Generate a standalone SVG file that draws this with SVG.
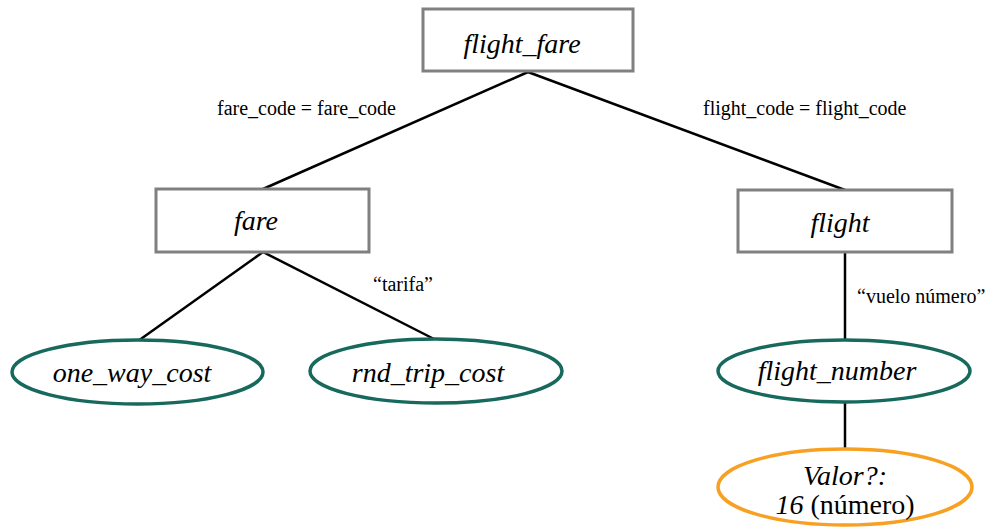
<svg xmlns="http://www.w3.org/2000/svg" width="987" height="527" viewBox="0 0 987 527">
  <style>
    .entity { fill: #ffffff; stroke: #808080; stroke-width: 3; }
    .attr { fill: #ffffff; stroke: #17695d; stroke-width: 3.5; }
    .value { fill: #ffffff; stroke: #f7a021; stroke-width: 3.5; }
    .edge { stroke: #000000; stroke-width: 2.5; fill: none; }
    .name { font-family: "Liberation Serif", "DejaVu Serif", serif; font-style: italic; font-size: 28px; fill: #000000; text-anchor: middle; }
    .label { font-family: "Liberation Serif", "DejaVu Serif", serif; font-size: 20px; fill: #000000; }
    .plain { font-style: normal; }
  </style>
  <rect width="987" height="527" fill="#ffffff"/>

  <!-- connectors -->
  <g id="connectors">
    <line class="edge" x1="528" y1="72" x2="263" y2="189"/>
    <line class="edge" x1="528" y1="72" x2="845" y2="190"/>
    <line class="edge" x1="263" y1="252" x2="138" y2="341"/>
    <line class="edge" x1="263" y1="252" x2="436" y2="340"/>
    <line class="edge" x1="845" y1="252" x2="845" y2="340"/>
    <line class="edge" x1="845" y1="402" x2="845" y2="449"/>
    <text class="label" x="217" y="115">fare_code = fare_code</text>
    <text class="label" x="703" y="115">flight_code = flight_code</text>
    <text class="label" x="373" y="291">“tarifa”</text>
    <text class="label" x="857" y="303">“vuelo número”</text>
  </g>

  <!-- entities -->
  <g id="flight_fare">
    <rect class="entity" x="423" y="9" width="210" height="62"/>
    <text class="name" x="522" y="53">flight_fare</text>
  </g>
  <g id="fare">
    <rect class="entity" x="156" y="189" width="213" height="63"/>
    <text class="name" x="256" y="230">fare</text>
  </g>
  <g id="flight">
    <rect class="entity" x="738" y="190" width="214" height="62"/>
    <text class="name" x="840" y="232">flight</text>
  </g>

  <!-- attributes -->
  <g id="one_way_cost">
    <ellipse class="attr" cx="137.5" cy="372" rx="125.5" ry="32"/>
    <text class="name" x="132" y="382">one_way_cost</text>
  </g>
  <g id="rnd_trip_cost">
    <ellipse class="attr" cx="436" cy="371" rx="126" ry="32"/>
    <text class="name" x="428" y="382">rnd_trip_cost</text>
  </g>
  <g id="flight_number">
    <ellipse class="attr" cx="844" cy="371" rx="126" ry="31"/>
    <text class="name" x="837" y="380">flight_number</text>
  </g>

  <!-- sample value -->
  <g id="valor">
    <ellipse class="value" cx="845" cy="487" rx="127" ry="38"/>
    <text class="name" x="845" y="485">Valor?:</text>
    <text class="name" x="845" y="514">16 <tspan class="plain">(número)</tspan></text>
  </g>
</svg>
